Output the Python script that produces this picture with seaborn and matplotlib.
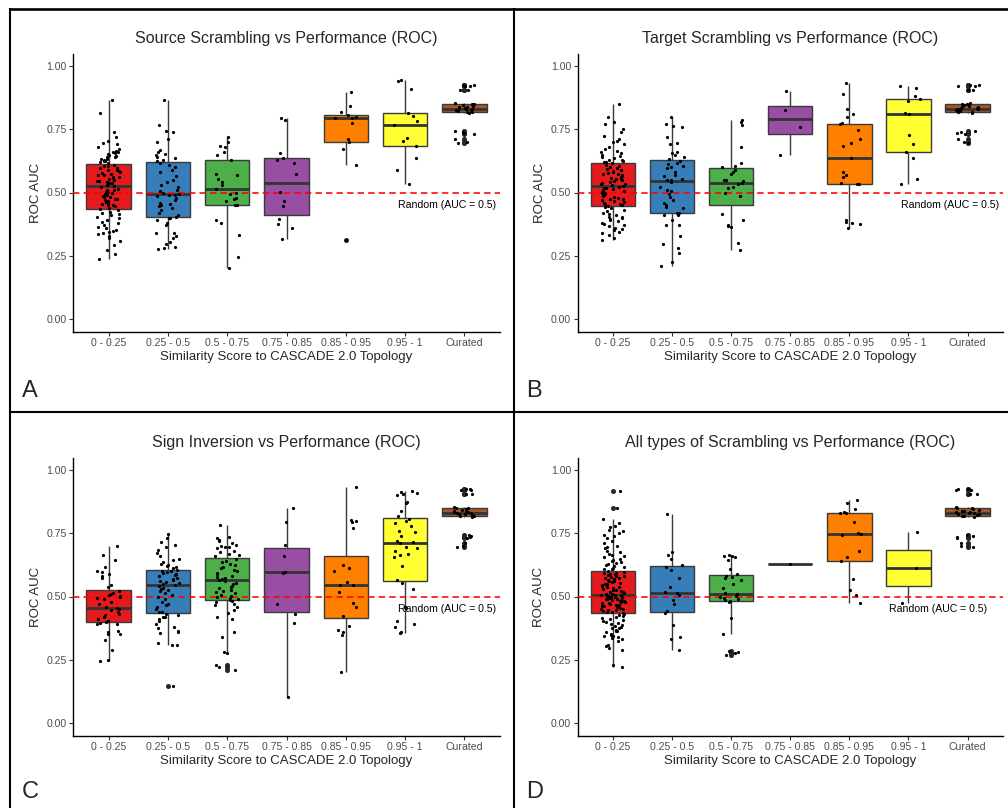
import numpy as np
import pandas as pd
import matplotlib
matplotlib.use("Agg")
import matplotlib.pyplot as plt
from matplotlib.lines import Line2D
import seaborn as sns

# ---------------- data ----------------
CATS = ["0 - 0.25", "0.25 - 0.5", "0.5 - 0.75", "0.75 - 0.85", "0.85 - 0.95", "0.95 - 1", "Curated"]
PALETTE = ["#E41A1C", "#377EB8", "#4DAF4A", "#984EA3", "#FF7F00", "#FFFF33", "#A65628"]
TITLES = ["Source Scrambling vs Performance (ROC)", "Target Scrambling vs Performance (ROC)",
          "Sign Inversion vs Performance (ROC)", "All types of Scrambling vs Performance (ROC)"]
PANEL_TAGS = ["A", "B", "C", "D"]
X_LABEL = "Similarity Score to CASCADE 2.0 Topology"
Y_LABEL = "ROC AUC"
Y_TICKS = [0.0, 0.25, 0.5, 0.75, 1.0]
Y_TICK_LABELS = ["0.00", "0.25", "0.50", "0.75", "1.00"]
RANDOM_AUC = 0.5
RANDOM_LABEL = "Random (AUC = 0.5)"
RANDOM_LABEL_X = [5.7, 5.7, 5.7, 5.5]
RANDOM_LABEL_Y = 0.45

CURATED = [0.695, 0.70, 0.712, 0.73, 0.735, 0.74, 0.745,
           0.816, 0.819, 0.82, 0.822, 0.825, 0.827, 0.829, 0.831, 0.833,
           0.835, 0.838, 0.84, 0.843, 0.845, 0.849, 0.8505, 0.855,
           0.905, 0.905, 0.92, 0.92, 0.925, 0.925]

# Panel A: source scrambling
SRC_1 = [0.237, 0.257, 0.273, 0.292, 0.31, 0.318, 0.326, 0.336, 0.341, 0.345, 0.347, 0.352, 0.359, 0.364, 0.371,
         0.378, 0.383, 0.392, 0.398, 0.404, 0.409, 0.416, 0.419, 0.424, 0.43,
         0.434, 0.439, 0.445, 0.449, 0.451, 0.456, 0.459, 0.463, 0.466, 0.471, 0.473, 0.476, 0.481, 0.483, 0.488,
         0.491, 0.494, 0.497, 0.501, 0.503, 0.508, 0.511, 0.514, 0.52, 0.524,
         0.528, 0.531, 0.536, 0.538, 0.541, 0.544, 0.547, 0.551, 0.553, 0.557, 0.561, 0.563, 0.568, 0.571, 0.573,
         0.577, 0.581, 0.584, 0.588, 0.59, 0.595, 0.598, 0.603, 0.606, 0.61,
         0.618, 0.621, 0.623, 0.626, 0.628, 0.632, 0.634, 0.639, 0.642, 0.645, 0.647, 0.652, 0.655, 0.659, 0.661,
         0.665, 0.671, 0.682, 0.692, 0.697, 0.705, 0.721, 0.739, 0.813, 0.865]
SRC_2 = [0.278, 0.279, 0.283, 0.296, 0.305, 0.32, 0.326, 0.338, 0.34, 0.37, 0.378, 0.39, 0.398, 0.40,
         0.402, 0.41, 0.42, 0.43, 0.44, 0.445, 0.45, 0.455, 0.46, 0.47, 0.478, 0.485, 0.49, 0.492,
         0.494, 0.50, 0.505, 0.51, 0.52, 0.53, 0.54, 0.55, 0.565, 0.58, 0.59, 0.60, 0.61, 0.618,
         0.626, 0.63, 0.635, 0.64, 0.648, 0.652, 0.661, 0.67, 0.698, 0.71, 0.74, 0.745, 0.769, 0.865]
SRC_3 = [0.203, 0.245, 0.33, 0.38, 0.39, 0.45, 0.4525, 0.465, 0.475, 0.48, 0.495, 0.50, 0.512, 0.53, 0.54,
         0.555, 0.57, 0.575, 0.628, 0.647, 0.66, 0.68, 0.685, 0.70, 0.718]
SRC_4 = [0.317, 0.359, 0.376, 0.397, 0.445, 0.468, 0.503, 0.573, 0.616, 0.63, 0.638, 0.657, 0.785, 0.793]
SRC_5 = [0.311, 0.607, 0.671, 0.698, 0.71, 0.776, 0.793, 0.795, 0.80, 0.806, 0.819, 0.844, 0.896]
SRC_6 = [0.534, 0.591, 0.638, 0.685, 0.704, 0.714, 0.766, 0.784, 0.802, 0.8127, 0.908, 0.942, 0.947]

# Panel B: target scrambling
TGT_1 = [0.314, 0.32, 0.33, 0.34, 0.345, 0.35, 0.356, 0.36, 0.366, 0.37, 0.377, 0.38, 0.386, 0.39, 0.395,
         0.40, 0.402, 0.405, 0.41, 0.415, 0.42, 0.428, 0.432, 0.438, 0.444,
         0.4465, 0.45, 0.453, 0.456, 0.46, 0.463, 0.466, 0.47, 0.473, 0.476, 0.48, 0.483, 0.486, 0.49, 0.493,
         0.497, 0.50, 0.503, 0.507, 0.51, 0.513, 0.516, 0.519, 0.522, 0.524,
         0.528, 0.532, 0.535, 0.538, 0.542, 0.545, 0.548, 0.552, 0.555, 0.558, 0.562, 0.565, 0.568, 0.572, 0.575,
         0.578, 0.582, 0.585, 0.59, 0.594, 0.598, 0.602, 0.606, 0.61, 0.615,
         0.62, 0.622, 0.625, 0.628, 0.63, 0.635, 0.64, 0.645, 0.65, 0.655, 0.66, 0.665, 0.672, 0.68, 0.69,
         0.70, 0.705, 0.71, 0.725, 0.74, 0.75, 0.77, 0.78, 0.80, 0.85]
TGT_2 = [0.21, 0.226, 0.259, 0.279, 0.296, 0.328, 0.37, 0.371, 0.39, 0.41, 0.411, 0.417,
         0.42, 0.44, 0.444, 0.45, 0.46, 0.47, 0.483, 0.496, 0.505, 0.51, 0.523, 0.542,
         0.548, 0.549, 0.555, 0.565, 0.57, 0.58, 0.595, 0.60, 0.605, 0.612, 0.618, 0.625,
         0.634, 0.64, 0.65, 0.657, 0.66, 0.69, 0.695, 0.72, 0.76, 0.765, 0.771, 0.797]
TGT_3 = [0.272, 0.30, 0.362, 0.368, 0.371, 0.391, 0.415, 0.485, 0.486, 0.50, 0.516, 0.523, 0.535, 0.538,
         0.545, 0.548, 0.55, 0.575, 0.582, 0.59, 0.60, 0.605, 0.618, 0.681, 0.767, 0.78, 0.786]
TGT_4 = [0.65, 0.76, 0.825, 0.90]
TGT_5 = [0.361, 0.375, 0.38, 0.385, 0.39, 0.533, 0.535, 0.538, 0.562, 0.57, 0.58, 0.635, 0.683, 0.697,
         0.712, 0.747, 0.77, 0.776, 0.80, 0.809, 0.831, 0.889, 0.934]
TGT_6 = [0.534, 0.554, 0.638, 0.661, 0.69, 0.727, 0.81, 0.815, 0.863, 0.868, 0.881, 0.913, 0.921]

# Panel C: sign inversion
SGN_1 = [0.246, 0.25, 0.288, 0.328, 0.35, 0.352, 0.361, 0.365, 0.39, 0.393, 0.396,
         0.40, 0.402, 0.404, 0.41, 0.42, 0.427, 0.43, 0.44, 0.445, 0.45, 0.453,
         0.459, 0.47, 0.48, 0.49, 0.495, 0.50, 0.502, 0.505, 0.51, 0.515, 0.52,
         0.538, 0.545, 0.574, 0.58, 0.589, 0.598, 0.60, 0.618, 0.644, 0.664, 0.70]
SGN_2 = [0.145, 0.308, 0.31, 0.317, 0.354, 0.361, 0.365, 0.375, 0.381, 0.39, 0.405, 0.412, 0.418, 0.42, 0.428, 0.432,
         0.437, 0.44, 0.45, 0.46, 0.465, 0.47, 0.479, 0.49, 0.50, 0.505, 0.512, 0.52, 0.525, 0.53, 0.535, 0.542,
         0.546, 0.55, 0.555, 0.558, 0.562, 0.566, 0.57, 0.575, 0.58, 0.585, 0.59, 0.593, 0.596, 0.60, 0.602, 0.604,
         0.612, 0.615, 0.62, 0.625, 0.63, 0.638, 0.644, 0.65, 0.66, 0.671, 0.685, 0.697, 0.705, 0.717, 0.73, 0.747]
SGN_3 = [0.21, 0.222, 0.229, 0.275, 0.28, 0.341, 0.361, 0.41, 0.42, 0.433, 0.445, 0.46, 0.465, 0.47, 0.479, 0.483,
         0.4857, 0.49, 0.495, 0.499, 0.503, 0.507, 0.512, 0.518, 0.522, 0.526, 0.532, 0.536, 0.541, 0.548, 0.555, 0.562,
         0.566, 0.57, 0.574, 0.578, 0.583, 0.588, 0.594, 0.60, 0.605, 0.611, 0.617, 0.623, 0.63, 0.636, 0.642, 0.648,
         0.66, 0.665, 0.67, 0.675, 0.68, 0.69, 0.695, 0.697, 0.70, 0.705, 0.71, 0.721, 0.725, 0.73, 0.736, 0.781]
SGN_4 = [0.103, 0.394, 0.431, 0.469, 0.593, 0.598, 0.66, 0.704, 0.794, 0.852]
SGN_5 = [0.202, 0.347, 0.358, 0.366, 0.384, 0.424, 0.46, 0.476, 0.517, 0.544, 0.547, 0.559, 0.602, 0.614,
         0.625, 0.773, 0.794, 0.80, 0.802, 0.935]
SGN_6 = [0.354, 0.36, 0.38, 0.39, 0.405, 0.455, 0.46, 0.53, 0.555, 0.565, 0.62, 0.655, 0.665, 0.67, 0.68,
         0.69, 0.695, 0.71, 0.716, 0.72, 0.74, 0.755, 0.76, 0.78, 0.79, 0.80, 0.805, 0.82, 0.84, 0.87,
         0.875, 0.90, 0.905, 0.91, 0.915, 0.917]

# Panel D: all types of scrambling
ALL_1 = [0.222, 0.228, 0.29, 0.298, 0.303, 0.31, 0.322, 0.33, 0.334, 0.338, 0.343, 0.345, 0.348, 0.352, 0.358,
         0.362, 0.365, 0.369, 0.374, 0.377, 0.381, 0.383, 0.387, 0.39, 0.394, 0.399, 0.404, 0.408, 0.412, 0.415,
         0.419, 0.423, 0.427, 0.431, 0.434,
         0.437, 0.44, 0.442, 0.445, 0.447, 0.45, 0.452, 0.454, 0.457, 0.46, 0.462, 0.464, 0.466, 0.468, 0.471,
         0.473, 0.475, 0.477, 0.479, 0.481, 0.483, 0.485, 0.487, 0.489, 0.49, 0.492, 0.494, 0.496, 0.497, 0.499,
         0.5, 0.501, 0.502, 0.504, 0.505,
         0.507, 0.509, 0.511, 0.514, 0.516, 0.519, 0.521, 0.524, 0.527, 0.53, 0.533, 0.536, 0.539, 0.542, 0.545,
         0.548, 0.551, 0.554, 0.557, 0.56, 0.563, 0.566, 0.569, 0.572, 0.575, 0.578, 0.58, 0.583, 0.586, 0.588,
         0.59, 0.592, 0.594, 0.597, 0.599,
         0.607, 0.61, 0.614, 0.618, 0.62, 0.624, 0.628, 0.632, 0.636, 0.64, 0.645, 0.65, 0.655, 0.66, 0.665,
         0.67, 0.675, 0.68, 0.69, 0.695, 0.70, 0.71, 0.72, 0.73, 0.74, 0.745, 0.75, 0.76, 0.765, 0.775,
         0.78, 0.79, 0.806, 0.852, 0.918]
ALL_2 = [0.29, 0.332, 0.338, 0.387, 0.433, 0.4425, 0.47, 0.486, 0.505, 0.512, 0.518, 0.536, 0.575, 0.604,
         0.618, 0.624, 0.647, 0.665, 0.675, 0.826]
ALL_3 = [0.27, 0.275, 0.28, 0.285, 0.35, 0.413, 0.478, 0.482, 0.485, 0.49, 0.495, 0.50, 0.503, 0.508,
         0.512, 0.534, 0.55, 0.567, 0.575, 0.579, 0.583, 0.59, 0.609, 0.645, 0.658, 0.66, 0.662, 0.665]
ALL_4 = [0.63]
ALL_5 = [0.4755, 0.506, 0.526, 0.568, 0.641, 0.657, 0.682, 0.745, 0.748, 0.753, 0.794, 0.83, 0.831, 0.836,
         0.847, 0.87, 0.882]
ALL_6 = [0.473, 0.614, 0.755]

PANELS = [
    [SRC_1, SRC_2, SRC_3, SRC_4, SRC_5, SRC_6, CURATED],
    [TGT_1, TGT_2, TGT_3, TGT_4, TGT_5, TGT_6, CURATED],
    [SGN_1, SGN_2, SGN_3, SGN_4, SGN_5, SGN_6, CURATED],
    [ALL_1, ALL_2, ALL_3, ALL_4, ALL_5, ALL_6, CURATED],
]

# ---------------- style ----------------
sns.set_style("ticks")
plt.rcParams["font.family"] = ["Liberation Sans", "DejaVu Sans"]
np.random.seed(7)

W, H = 1008, 808
fig = plt.figure(figsize=(W / 100, H / 100), dpi=100)
fig.patch.set_facecolor("white")


def fx(px):
    return px / W


def fy(py):
    return 1 - py / H


# axes boxes in pixels: left, right, top, bottom
AX_BOXES = [(73, 500, 53.5, 331.5), (577.5, 1003, 53.5, 331.5),
            (73, 500, 457.5, 735.5), (577.5, 1003, 457.5, 735.5)]
TITLE_Y = [38.5, 38.5, 442.5, 442.5]
XLAB_Y = [357, 357, 761, 761]
YLAB_X = [36, 540, 36, 539.5]
TAG_XY = [(22, 397), (526, 397), (22, 798), (526, 798)]

for i, groups in enumerate(PANELS):
    l, r, t, b = AX_BOXES[i]
    ax = fig.add_axes([fx(l), fy(b), (r - l) / W, (b - t) / H])
    cat_col = []
    val_col = []
    for c, vals in zip(CATS, groups):
        cat_col += [c] * len(vals)
        val_col += list(vals)
    df = pd.DataFrame({"cat": cat_col, "auc": val_col})

    sns.boxplot(data=df, x="cat", y="auc", hue="cat", order=CATS, hue_order=CATS,
                palette=PALETTE, saturation=1, width=0.75, linewidth=1.0,
                linecolor="#3a3a3a", showcaps=False, fliersize=2.6,
                flierprops=dict(marker="o", markerfacecolor="#262626",
                                markeredgecolor="#262626"),
                medianprops=dict(linewidth=2.0, color="#333333"),
                legend=False, ax=ax)
    ax.axhline(RANDOM_AUC, color="#FF0000", lw=1.15, ls=(0, (4, 2.6)), zorder=3)
    sns.stripplot(data=df, x="cat", y="auc", order=CATS, color="black", size=2.3,
                  jitter=0.2, linewidth=0, ax=ax)
    for coll in ax.collections:
        coll.set_zorder(4)

    ax.text(RANDOM_LABEL_X[i], RANDOM_LABEL_Y, RANDOM_LABEL, ha="center", va="center",
            fontsize=7.6, color="black", zorder=5)

    ax.set_xlim(-0.6, 6.6)
    ax.set_ylim(-0.05, 1.05)
    ax.set_yticks(Y_TICKS)
    ax.set_yticklabels(Y_TICK_LABELS)
    ax.set_xlabel("")
    ax.set_ylabel("")
    for s in ["top", "right"]:
        ax.spines[s].set_visible(False)
    for s in ["left", "bottom"]:
        ax.spines[s].set_color("black")
        ax.spines[s].set_linewidth(1.0)
    ax.tick_params(axis="both", length=2.75, width=0.8, color="#333333",
                   labelcolor="#4D4D4D", labelsize=7.6, pad=1.8)
    ax.set_facecolor("white")

    fig.text(fx((l + r) / 2), fy(TITLE_Y[i]), TITLES[i], ha="center", va="center", fontsize=11.5)
    fig.text(fx((l + r) / 2), fy(XLAB_Y[i]), X_LABEL, ha="center", va="center", fontsize=9.5)
    fig.text(fx(YLAB_X[i]), fy((t + b) / 2), Y_LABEL, ha="center", va="center",
             rotation=90, fontsize=9.5)
    tx, ty = TAG_XY[i]
    fig.text(fx(tx), fy(ty), PANEL_TAGS[i], ha="left", va="baseline", fontsize=17)

# panel borders
border_kw = dict(transform=fig.transFigure, color="black", solid_capstyle="butt")
fig.add_artist(Line2D([fx(9), fx(1008)], [fy(8.7), fy(8.7)], lw=1.9, **border_kw))
fig.add_artist(Line2D([fx(10), fx(10)], [fy(7.5), fy(808)], lw=1.5, **border_kw))
fig.add_artist(Line2D([fx(514), fx(514)], [fy(8), fy(808)], lw=1.5, **border_kw))
fig.add_artist(Line2D([fx(10), fx(1008)], [fy(412.5), fy(412.5)], lw=1.5, **border_kw))

fig.savefig("out.png", dpi=100, facecolor="white")
